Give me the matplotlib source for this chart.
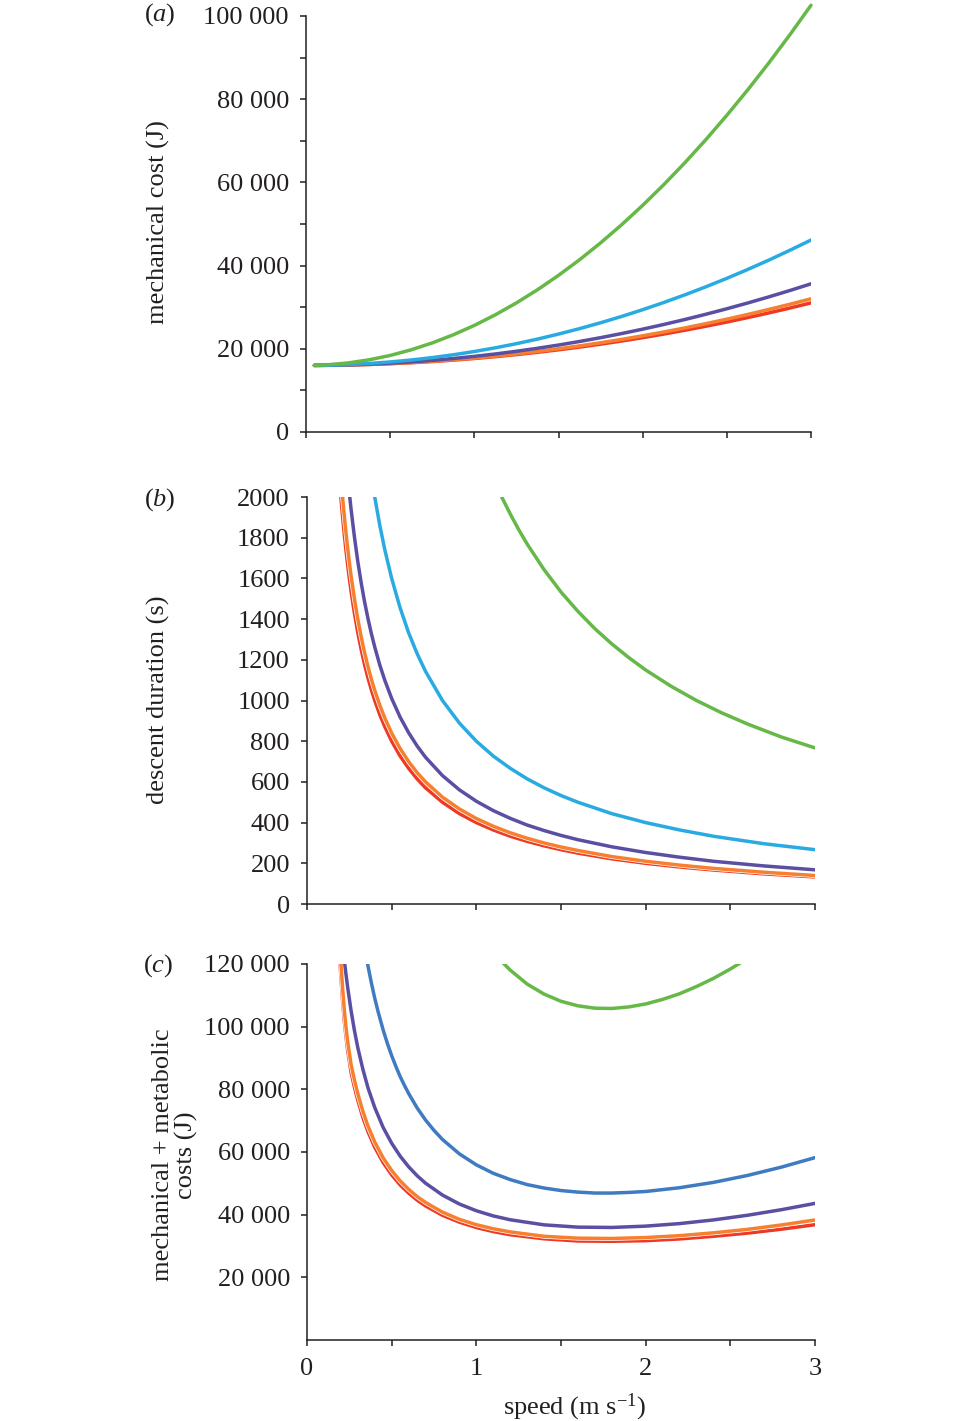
"""Costi meccanici, durata della discesa e costi totali in funzione della velocità."""
import matplotlib

matplotlib.use("Agg")
import matplotlib.pyplot as plt
import matplotlib.patheffects as pe

plt.rcParams["font.family"] = ["Liberation Serif", "DejaVu Serif"]
plt.rcParams["mathtext.fontset"] = "custom"
plt.rcParams["mathtext.rm"] = "Liberation Serif"
plt.rcParams["mathtext.it"] = "Liberation Serif:italic"

# ---- dati ----
# (a) costo meccanico (J)
speed_a = [0.05, 0.125, 0.25, 0.375, 0.5, 0.625, 0.75, 0.875, 1.0, 1.125, 1.25, 1.375, 1.5,
           1.625, 1.75, 1.875, 2.0, 2.125, 2.25, 2.375, 2.5, 2.625, 2.75, 2.875, 3.0]
mech_green = [16020, 16150, 16600, 17350, 18400, 19760, 21410, 23370, 25620, 28180, 31030, 34190,
              37650, 41400, 45460, 49820, 54480, 59440, 64700, 70260, 76130, 82290, 88750, 95520,
              102580]
mech_cyan = [16010, 16052, 16209, 16471, 16838, 17309, 17884, 18565, 19350, 20240, 21234, 22334,
             23538, 24846, 26259, 27777, 29400, 31128, 32959, 34896, 36938, 39084, 41334, 43690,
             46150]
mech_purple = [16005, 16034, 16136, 16307, 16545, 16852, 17226, 17669, 18180, 18759, 19406, 20122,
               20905, 21757, 22676, 23664, 24720, 25844, 27036, 28297, 29625, 31022, 32486, 34019,
               35620]
mech_orange = [16004, 16028, 16111, 16250, 16445, 16695, 17001, 17363, 17780, 18253, 18781, 19365,
               20005, 20700, 21451, 22258, 23120, 24038, 25011, 26040, 27125, 28265, 29461, 30713,
               32020]
mech_red = [16004, 16026, 16104, 16235, 16418, 16652, 16939, 17279, 17670, 18114, 18609, 19157,
            19758, 20410, 21114, 21871, 22680, 23541, 24454, 25420, 26438, 27507, 28629, 29804,
            31030]

# (b) durata della discesa (s)
speed_b = [0.2, 0.21, 0.22, 0.23, 0.24, 0.25, 0.26, 0.28, 0.3, 0.32, 0.34, 0.36, 0.38, 0.4, 0.43,
           0.46, 0.5, 0.55, 0.6, 0.65, 0.7, 0.8, 0.9, 1.0, 1.1, 1.2, 1.3, 1.4, 1.5, 1.6, 1.8, 2.0,
           2.2, 2.4, 2.7, 3.0]
dur_red = [2000, 1905, 1818, 1739, 1667, 1600, 1538, 1429, 1333, 1250, 1176, 1111, 1053, 1000, 930,
           870, 800, 727, 667, 615, 571, 500, 444, 400, 364, 333, 308, 286, 267, 250, 222, 200,
           182, 167, 148, 133]
dur_orange = [2100, 2000, 1909, 1826, 1750, 1680, 1615, 1500, 1400, 1313, 1235, 1167, 1105, 1050,
              977, 913, 840, 764, 700, 646, 600, 525, 467, 420, 382, 350, 323, 300, 280, 263, 233,
              210, 191, 175, 156, 140]
dur_purple = [2525, 2405, 2295, 2196, 2104, 2020, 1942, 1804, 1683, 1578, 1485, 1403, 1329, 1263,
              1174, 1098, 1010, 918, 842, 777, 721, 631, 561, 505, 459, 421, 388, 361, 337, 316,
              281, 253, 230, 210, 187, 168]
dur_cyan = [4000, 3810, 3636, 3478, 3333, 3200, 3077, 2857, 2667, 2500, 2353, 2222, 2105, 2000,
            1860, 1739, 1600, 1455, 1333, 1231, 1143, 1000, 889, 800, 727, 667, 615, 571, 533, 500,
            444, 400, 364, 333, 296, 267]
speed_b_green = [1.15, 1.2, 1.25, 1.3, 1.4, 1.5, 1.6, 1.7, 1.8, 1.9, 2.0, 2.15, 2.3, 2.45, 2.6,
                 2.8, 3.0]
dur_green = [2000, 1917, 1840, 1769, 1643, 1533, 1438, 1353, 1278, 1211, 1150, 1070, 1000, 939,
             885, 821, 767]

# (c) costi meccanici + metabolici (J)
speed_c = [0.19, 0.2, 0.21, 0.22, 0.23, 0.24, 0.26, 0.28, 0.3, 0.33, 0.36, 0.4, 0.45, 0.5, 0.55,
           0.6, 0.65, 0.7, 0.8, 0.9, 1.0, 1.1, 1.2, 1.4, 1.6, 1.8, 2.0, 2.2, 2.4, 2.6, 2.8, 3.0]
tot_red = [125000, 116000, 108500, 102000, 97000, 92500, 85500, 80700, 76500, 71000, 66500, 61500,
           56600, 52700, 49500, 46900, 44650, 42800, 39800, 37600, 35900, 34600, 33600, 32300,
           31600, 31500, 31700, 32250, 33100, 34100, 35350, 36800]
tot_orange = [130000, 120500, 112500, 105500, 100000, 95300, 88000, 83000, 78600, 73000, 68300,
              63200, 58100, 54100, 50800, 48100, 45800, 43900, 40800, 38500, 36800, 35500, 34500,
              33100, 32500, 32400, 32700, 33300, 34200, 35300, 36700, 38300]
tot_purple = [138000, 131900, 126400, 121300, 116800, 112600, 105200, 98800, 93300, 86400, 80500,
              74200, 67800, 62800, 58700, 55300, 52450, 50050, 46250, 43400, 41250, 39600, 38370,
              36750, 36020, 35920, 36340, 37150, 38320, 39800, 41570, 43600]
speed_c_blue = [0.34, 0.36, 0.38, 0.4, 0.42, 0.45, 0.475, 0.5, 0.525, 0.55, 0.575, 0.6, 0.65, 0.7,
                0.75, 0.8, 0.9, 1.0, 1.1, 1.2, 1.3, 1.4, 1.5, 1.6, 1.7, 1.8, 1.9, 2.0, 2.2, 2.4,
                2.6, 2.8, 3.0]
tot_blue = [125500, 119400, 114000, 109100, 104750, 98900, 94600, 90750, 87300, 84100, 81300, 78700,
            74100, 70200, 66900, 64000, 59400, 55900, 53200, 51200, 49600, 48500, 47700, 47200,
            46900, 46900, 47100, 47400, 48600, 50300, 52500, 55150, 58200]
speed_c_green = [1.1, 1.15, 1.2, 1.3, 1.4, 1.5, 1.6, 1.7, 1.8, 1.9, 2.0, 2.1, 2.2, 2.3, 2.4, 2.5,
                 2.6]
tot_green = [123900, 120800, 118050, 113600, 110400, 108100, 106650, 105900, 105800, 106300, 107250,
             108700, 110500, 112800, 115400, 118400, 121700]

GREEN = "#66b847"
CYAN = "#29abe2"
PURPLE = "#5a4fa2"
ORANGE = "#f7802f"
RED = "#ee3a24"
BLUE = "#3f7bc1"
AXIS = "#231f20"
LW = 2.5
FS = 19

W, H = 960, 1421
fig = plt.figure(figsize=(W / 100, H / 100), dpi=100)


def box(x0, y_bot, x1, y_top):
    return [x0 / W, 1 - y_bot / H, (x1 - x0) / W, (y_bot - y_top) / H]


def style(ax):
    for side in ("top", "right"):
        ax.spines[side].set_visible(False)
    for side in ("left", "bottom"):
        ax.spines[side].set_linewidth(1.1)
        ax.spines[side].set_color(AXIS)
    ax.tick_params(which="both", direction="out", length=4.3, width=1.1, color=AXIS,
                   labelsize=FS, labelcolor=AXIS)
    ax.tick_params(axis="y", pad=8)
    ax.set_xlim(0, 3)
    ax.set_xticks([0, 0.5, 1, 1.5, 2, 2.5, 3])


def spaced(vals):
    return [f"{v:,}".replace(",", " ") for v in vals]


halo = [pe.withStroke(linewidth=LW + 1.0, foreground="white")]
line = dict(lw=LW, solid_joinstyle="round", solid_capstyle="round")

# (a)
ax_a = fig.add_axes(box(306, 432, 811, 16))
style(ax_a)
ax_a.plot(speed_a, mech_red, color=RED, **line)
ax_a.plot(speed_a, mech_orange, color=ORANGE, **line)
ax_a.plot(speed_a, mech_purple, color=PURPLE, **line)
ax_a.plot(speed_a, mech_cyan, color=CYAN, **line)
ax_a.plot(speed_a, mech_green, color=GREEN, clip_on=False, **line)
ax_a.set_ylim(0, 100000)
yt = [0, 20000, 40000, 60000, 80000, 100000]
ax_a.set_yticks(yt)
ax_a.set_yticklabels(spaced(yt))
ax_a.set_yticks([10000, 30000, 50000, 70000, 90000], minor=True)
ax_a.set_xticklabels([])

# (b)
ax_b = fig.add_axes(box(307, 904, 815, 497))
style(ax_b)
ax_b.plot(speed_b, dur_red, color=RED, **line)
ax_b.plot(speed_b, dur_orange, color=ORANGE, path_effects=halo, **line)
ax_b.plot(speed_b, dur_purple, color=PURPLE, **line)
ax_b.plot(speed_b, dur_cyan, color=CYAN, **line)
ax_b.plot(speed_b_green, dur_green, color=GREEN, **line)
ax_b.set_ylim(0, 2000)
ax_b.set_yticks(range(0, 2001, 200))
ax_b.set_xticklabels([])

# (c)
ax_c = fig.add_axes(box(307, 1340, 815, 964))
style(ax_c)
ax_c.plot(speed_c, tot_red, color=RED, **line)
ax_c.plot(speed_c, tot_orange, color=ORANGE, path_effects=halo, **line)
ax_c.plot(speed_c, tot_purple, color=PURPLE, **line)
ax_c.plot(speed_c_blue, tot_blue, color=BLUE, **line)
ax_c.plot(speed_c_green, tot_green, color=GREEN, **line)
ax_c.set_ylim(0, 120000)
yt_c = [20000, 40000, 60000, 80000, 100000, 120000]
ax_c.set_yticks(yt_c)
ax_c.set_yticklabels(spaced(yt_c))
ax_c.set_xticklabels(["0", "", "1", "", "2", "", "3"])
ax_c.tick_params(axis="x", pad=9)


# etichette
def ftext(x, y, s, **kw):
    fig.text(x / W, 1 - y / H, s, fontsize=FS, color=AXIS, **kw)


ftext(160, 15, r"($\mathit{a}$)", ha="center", va="center")
ftext(160, 500, r"($\mathit{b}$)", ha="center", va="center")
ftext(158, 966, r"($\mathit{c}$)", ha="center", va="center")
ftext(158, 222, "mechanical cost (J)", rotation=90, ha="center", va="center")
ftext(158, 700, "descent duration (s)", rotation=90, ha="center", va="center")
ftext(175, 1155, "mechanical + metabolic\ncosts (J)", rotation=90, ha="center", va="center",
      multialignment="center", linespacing=1.1)
ftext(574, 1407, r"speed (m s$^{-1}$)", ha="center", va="center")

fig.savefig("out.png", dpi=100, facecolor="white")
plt.close(fig)
